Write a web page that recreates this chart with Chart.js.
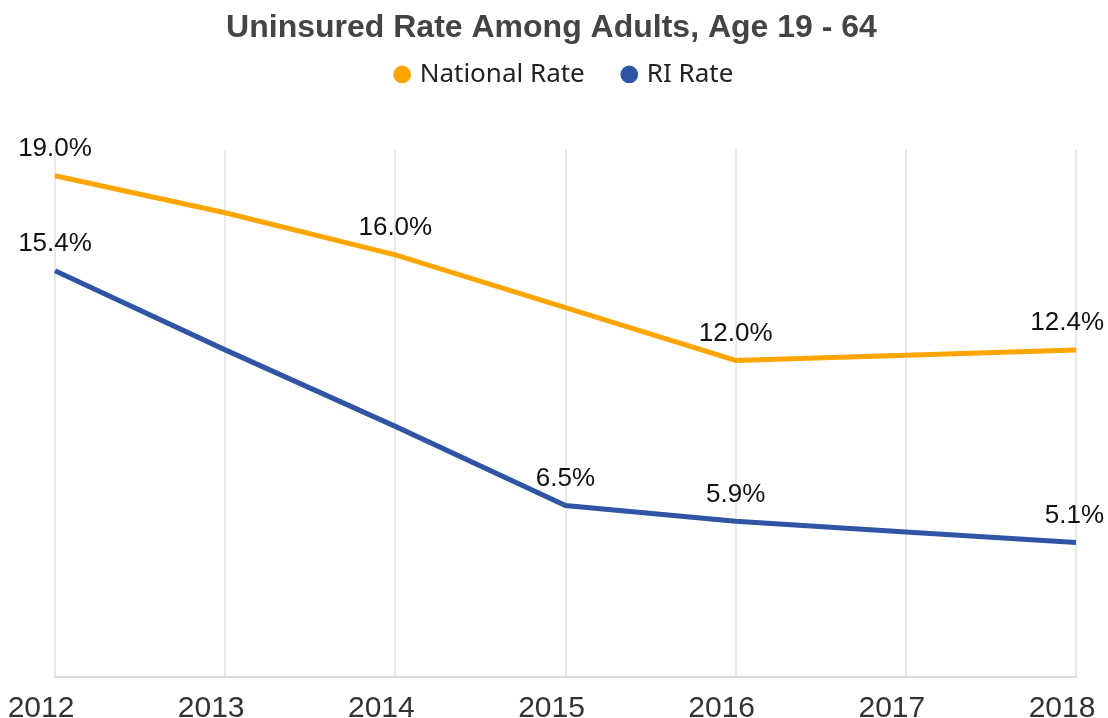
<!DOCTYPE html>
<html>
<head>
<meta charset="utf-8">
<title>Uninsured Rate Among Adults</title>
<script src="https://cdn.jsdelivr.net/npm/chart.js@4"></script>
<style>
  html, body { margin: 0; padding: 0; background: #fff; }
  #wrap { width: 1108px; height: 718px; }
</style>
</head>
<body>
<div id="wrap"><canvas id="myChart"></canvas></div>
<script>
var years = ['2012', '2013', '2014', '2015', '2016', '2017', '2018'];
var nationalRate = [19.0, 17.6, 16.0, 14.0, 12.0, 12.2, 12.4];
var riRate = [15.4, 12.4, 9.5, 6.5, 5.9, 5.5, 5.1];
// indexes of the points that get a value label
var nationalLabelled = [0, 2, 4, 6];
var riLabelled = [0, 3, 4, 6];

// writes "x.x%" above the chosen points of each line
var pointLabels = {
    id: 'pointLabels',
    afterDatasetsDraw: function(chart) {
        var ctx = chart.ctx;
        ctx.save();
        ctx.font = '26px "Liberation Sans", Arial, sans-serif';
        ctx.fillStyle = '#111';
        ctx.textAlign = 'center';
        ctx.textBaseline = 'bottom';
        chart.data.datasets.forEach(function(ds, i) {
            var meta = chart.getDatasetMeta(i);
            ds.labelled.forEach(function(idx) {
                var pt = meta.data[idx];
                var txt = ds.data[idx].toFixed(1) + '%';
                var half = ctx.measureText(txt).width / 2;
                // keep the text inside the canvas on the right edge
                var x = Math.min(pt.x, chart.width - 4 - half);
                ctx.fillText(txt, x, pt.y - 14);
            });
        });
        ctx.restore();
    }
};

// extra room between legend and plot, title nudged left
var layoutTweaks = {
    id: 'layoutTweaks',
    beforeInit: function(chart) {
        var fit = chart.legend.fit;
        chart.legend.fit = function() {
            fit.bind(chart.legend)();
            this.height += 52;
        };
    },
    afterLayout: function(chart) {
        chart.titleBlock.left -= 28;
    }
};

function makeChart() {
    var ctx = document.getElementById('myChart');
    new Chart(ctx, {
        type: 'line',
        data: {
            labels: years,
            datasets: [{
                label: 'National Rate',
                data: nationalRate,
                labelled: nationalLabelled,
                borderColor: '#FFA500',
                backgroundColor: '#FFA500',
                borderWidth: 5,
                pointRadius: 0,
                tension: 0,
                fill: false
            }, {
                label: 'RI Rate',
                data: riRate,
                labelled: riLabelled,
                borderColor: '#2F55A4',
                backgroundColor: '#2F55A4',
                borderWidth: 5,
                pointRadius: 0,
                tension: 0,
                fill: false
            }]
        },
        options: {
            responsive: true,
            maintainAspectRatio: false,
            animation: false,
            layout: { padding: { left: 55, right: 32, top: 0, bottom: 0 } },
            plugins: {
                title: {
                    display: true,
                    text: 'Uninsured Rate Among Adults, Age 19 - 64',
                    color: '#444',
                    font: { family: '"Liberation Sans", Arial, sans-serif', size: 32, weight: 'bold' },
                    padding: { top: 9, bottom: -26 }
                },
                legend: {
                    display: true,
                    labels: {
                        usePointStyle: true,
                        pointStyle: 'circle',
                        boxWidth: 9,
                        boxHeight: 9,
                        padding: 40,
                        color: '#222',
                        font: { family: '"Noto Sans", sans-serif', size: 26 }
                    }
                },
                tooltip: { enabled: false }
            },
            scales: {
                x: {
                    grid: { color: '#e8e8e8', lineWidth: 2, drawTicks: false },
                    border: { color: '#dcdcdc', width: 2 },
                    ticks: {
                        color: '#333',
                        padding: 14,
                        labelOffset: -14,
                        maxRotation: 0,
                        font: { family: '"Liberation Sans", Arial, sans-serif', size: 30 }
                    },
                    afterFit: function(scale) {
                        scale.paddingLeft = 0;
                        scale.paddingRight = 0;
                        scale.height = 41;
                    }
                },
                y: {
                    display: false,
                    min: 0,
                    max: 20
                }
            }
        },
        plugins: [pointLabels, layoutTweaks]
    });
}

makeChart();
</script>
</body>
</html>
